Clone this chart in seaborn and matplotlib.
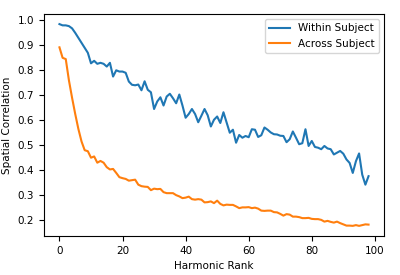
import numpy as np
import pandas as pd
import seaborn as sns
import matplotlib
matplotlib.use("Agg")
import matplotlib.pyplot as plt

# harmonic rank 0..98
rank = list(range(99))

within_subject = [
    0.985, 0.980, 0.980, 0.977, 0.968, 0.950, 0.930, 0.910, 0.890, 0.870,
    0.828, 0.838, 0.826, 0.830, 0.826, 0.815, 0.830, 0.775, 0.800, 0.795,
    0.795, 0.790, 0.755, 0.742, 0.740, 0.743, 0.720, 0.756, 0.722, 0.712,
    0.645, 0.675, 0.692, 0.659, 0.695, 0.706, 0.688, 0.668, 0.703, 0.659,
    0.610, 0.625, 0.645, 0.625, 0.592, 0.618, 0.645, 0.620, 0.575, 0.602,
    0.615, 0.589, 0.632, 0.591, 0.550, 0.562, 0.510, 0.541, 0.530, 0.537,
    0.532, 0.564, 0.562, 0.533, 0.540, 0.571, 0.562, 0.551, 0.544, 0.543,
    0.538, 0.537, 0.512, 0.524, 0.555, 0.530, 0.504, 0.508, 0.564, 0.497,
    0.517, 0.493, 0.490, 0.484, 0.497, 0.487, 0.484, 0.463, 0.470, 0.477,
    0.466, 0.443, 0.429, 0.389, 0.436, 0.467, 0.382, 0.342, 0.376,
]

across_subject = [
    0.892, 0.850, 0.845, 0.760, 0.690, 0.625, 0.565, 0.515, 0.480, 0.476,
    0.450, 0.455, 0.430, 0.437, 0.430, 0.412, 0.403, 0.405, 0.389, 0.372,
    0.368, 0.365, 0.358, 0.360, 0.362, 0.342, 0.336, 0.334, 0.333, 0.320,
    0.326, 0.324, 0.325, 0.312, 0.308, 0.308, 0.308, 0.300, 0.295, 0.288,
    0.290, 0.294, 0.284, 0.282, 0.284, 0.282, 0.271, 0.272, 0.275, 0.268,
    0.278, 0.265, 0.259, 0.262, 0.261, 0.261, 0.255, 0.248, 0.251, 0.251,
    0.252, 0.248, 0.250, 0.246, 0.238, 0.237, 0.238, 0.238, 0.232, 0.231,
    0.225, 0.218, 0.224, 0.222, 0.214, 0.214, 0.212, 0.208, 0.208, 0.209,
    0.205, 0.204, 0.204, 0.201, 0.194, 0.197, 0.193, 0.190, 0.194, 0.188,
    0.183, 0.178, 0.178, 0.177, 0.180, 0.177, 0.180, 0.183, 0.182,
]

df = pd.DataFrame({
    "Harmonic Rank": rank * 2,
    "Spatial Correlation": within_subject + across_subject,
    "Group": ["Within Subject"] * 99 + ["Across Subject"] * 99,
})

plt.rcParams["font.size"] = 7.5
fig, ax = plt.subplots(figsize=(4, 2.75), dpi=100)
fig.subplots_adjust(left=0.11, right=0.96, top=0.949, bottom=0.142)

sns.lineplot(data=df, x="Harmonic Rank", y="Spatial Correlation", hue="Group",
             palette=["#1f77b4", "#ff7f0e"], linewidth=1.5, ax=ax)

ax.legend(title=None, loc="upper right", fontsize=7.5)
ax.tick_params(labelsize=7.5)

fig.savefig("out.png", dpi=100)
